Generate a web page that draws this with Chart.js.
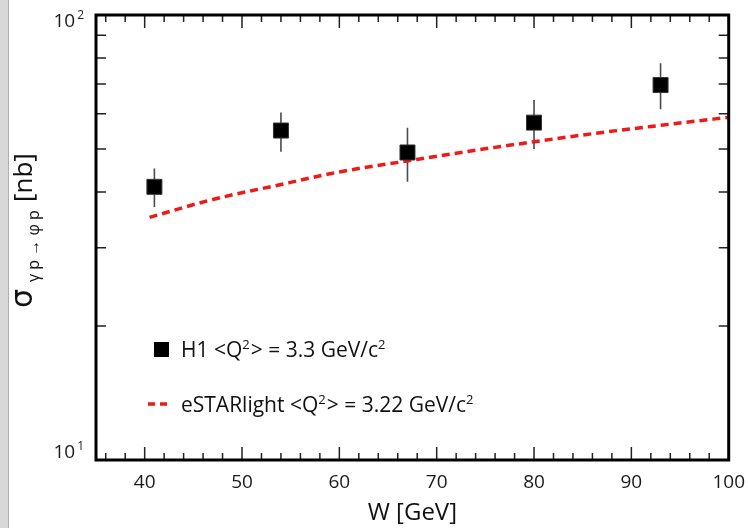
<!DOCTYPE html>
<html><head><meta charset="utf-8">
<script src="https://cdn.jsdelivr.net/npm/chart.js@4.4.1/dist/chart.umd.min.js"></script>
<style>
html,body{margin:0;padding:0;background:#fff;}
#wrap{position:relative;width:748px;height:528px;overflow:hidden;}
canvas{position:absolute;left:0;top:0;}
#strip{position:absolute;left:0;top:0;width:8px;height:528px;background:#d8d8d8;border-right:1px solid #b0b0b0;}
</style></head><body>
<div id="wrap"><canvas id="c" width="748" height="528"></canvas><div id="strip"></div></div>
<script>
// ---- data ----
const energies  = [41, 54, 67, 80, 93];            // W [GeV]
const h1Sigma   = [41.1, 55.0, 49.1, 57.3, 69.6];  // H1 cross section [nb]
const h1ErrHigh = [45.2, 60.4, 55.8, 64.4, 77.9];  // upper end of error bar
const h1ErrLow  = [37.0, 49.3, 42.2, 50.0, 61.4];  // lower end of error bar
const modelW     = [40.5, 47, 54, 60, 67, 73, 80, 86, 93, 100];
const modelSigma = [35.1, 38.5, 41.6, 44.4, 47.0, 49.3, 51.9, 54.1, 56.5, 58.9];
const xTickValues = [40, 50, 60, 70, 80, 90, 100];
const yMinorTicks = [20, 30, 40, 50, 60, 70, 80, 90];
const yMajorLabels = [{v: 10, base: '10', exp: '1'}, {v: 100, base: '10', exp: '2'}];
const legendH1 = ['H1 <Q', '2', '> = 3.3 GeV/c', '2'];
const legendModel = ['eSTARlight <Q', '2', '> = 3.22 GeV/c', '2'];

const FONT = '"Open Sans", "Liberation Sans", sans-serif';

const xMinorTicks = [];
for (let v = 36; v < 100; v += 2) if (v % 10 !== 0) xMinorTicks.push(v);

function drawSupText(ctx, parts, x, y, size, supSize, rise) {
  ctx.textAlign = 'left'; ctx.textBaseline = 'alphabetic';
  for (let i = 0; i < parts.length; i++) {
    const sup = i % 2 === 1;
    ctx.font = (sup ? supSize : size) + 'px ' + FONT;
    ctx.fillText(parts[i], x, sup ? y - rise : y);
    x += ctx.measureText(parts[i]).width + (sup ? 1 : 0);
  }
}

const errorBars = {
  id: 'errorBars',
  beforeDatasetsDraw(chart) {
    const {ctx, scales: {x, y}} = chart;
    ctx.save();
    ctx.strokeStyle = '#4a4a4a'; ctx.lineWidth = 1.6;
    energies.forEach((w, i) => {
      const px = x.getPixelForValue(w);
      ctx.beginPath();
      ctx.moveTo(px, y.getPixelForValue(h1ErrHigh[i]));
      ctx.lineTo(px, y.getPixelForValue(h1ErrLow[i]));
      ctx.stroke();
    });
    ctx.restore();
  }
};

const frame = {
  id: 'frame',
  afterDatasetsDraw(chart) {
    const {ctx, chartArea: a, scales: {x, y}} = chart;
    ctx.save();
    ctx.strokeStyle = '#222'; ctx.lineWidth = 1.5;
    ctx.beginPath();
    xTickValues.forEach(v => { const p = x.getPixelForValue(v);
      ctx.moveTo(p, a.bottom); ctx.lineTo(p, a.bottom - 13);
      ctx.moveTo(p, a.top); ctx.lineTo(p, a.top + 13); });
    xMinorTicks.forEach(v => { const p = x.getPixelForValue(v);
      ctx.moveTo(p, a.bottom); ctx.lineTo(p, a.bottom - 7);
      ctx.moveTo(p, a.top); ctx.lineTo(p, a.top + 7); });
    yMinorTicks.forEach(v => { const p = y.getPixelForValue(v);
      ctx.moveTo(a.left, p); ctx.lineTo(a.left + 10, p);
      ctx.moveTo(a.right, p); ctx.lineTo(a.right - 10, p); });
    ctx.stroke();
    ctx.strokeStyle = '#000'; ctx.lineWidth = 3;
    ctx.strokeRect(a.left, a.top, a.right - a.left, a.bottom - a.top);

    // y labels 10^1, 10^2
    ctx.fillStyle = '#1a1a1a';
    yMajorLabels.forEach(l => {
      let p = y.getPixelForValue(l.v);
      p = Math.min(Math.max(p, a.top + 12), a.bottom - 2);
      ctx.font = '19px ' + FONT; const wb = ctx.measureText(l.base).width;
      ctx.font = '12px ' + FONT; const we = ctx.measureText(l.exp).width;
      const x0 = 84 - wb - we - 2;
      ctx.textAlign = 'left'; ctx.textBaseline = 'alphabetic';
      ctx.font = '19px ' + FONT; ctx.fillText(l.base, x0, p);
      ctx.font = '12px ' + FONT; ctx.fillText(l.exp, x0 + wb + 2, p - 8);
    });

    // y title
    ctx.save();
    ctx.translate(32, 308); ctx.rotate(-Math.PI / 2);
    ctx.fillStyle = '#111'; ctx.textAlign = 'left'; ctx.textBaseline = 'alphabetic';
    ctx.font = '30px "DejaVu Sans", sans-serif'; ctx.fillText('σ', 0, 0);
    ctx.font = '16px ' + FONT; ctx.fillText('γ p → φ p', 26, 7);
    ctx.font = '26px ' + FONT; ctx.fillText('[nb]', 106, 0);
    ctx.restore();

    // legend
    ctx.fillStyle = '#000';
    ctx.fillRect(154, 342, 15, 15);
    ctx.fillStyle = '#111';
    drawSupText(ctx, legendH1, 181, 357, 21, 13, 8);
    ctx.strokeStyle = '#f01818'; ctx.lineWidth = 3.5; ctx.setLineDash([7, 5]);
    ctx.beginPath(); ctx.moveTo(148, 404); ctx.lineTo(168, 404); ctx.stroke();
    ctx.setLineDash([]);
    ctx.fillStyle = '#111';
    drawSupText(ctx, legendModel, 181, 412, 21, 13, 8);
    ctx.restore();
  }
};

new Chart(document.getElementById('c'), {
  data: {
    datasets: [
      { type: 'line', label: 'eSTARlight <Q2> = 3.22 GeV/c2',
        data: modelW.map((w, i) => ({x: w, y: modelSigma[i]})),
        borderColor: '#f01818', borderWidth: 3.5, borderDash: [8, 5],
        pointRadius: 0, fill: false, cubicInterpolationMode: 'monotone', order: 2 },
      { type: 'scatter', label: 'H1 <Q2> = 3.3 GeV/c2',
        data: energies.map((w, i) => ({x: w, y: h1Sigma[i]})),
        pointStyle: 'rect', pointRadius: 10.6, backgroundColor: '#000',
        borderColor: '#333', borderWidth: 1, order: 1 }
    ]
  },
  options: {
    responsive: false, animation: false, devicePixelRatio: 1,
    layout: {padding: {left: 96, top: 15, right: 19, bottom: 0}},
    plugins: {legend: {display: false}, tooltip: {enabled: false}},
    scales: {
      x: { type: 'linear', position: 'bottom', min: 35, max: 100,
        grid: {display: false}, border: {display: false},
        afterBuildTicks: s => { s.ticks = xTickValues.map(v => ({value: v})); },
        afterFit: s => { s.height = 68; },
        ticks: {color: '#1a1a1a', font: {size: 19, family: FONT}, padding: 3, maxRotation: 0},
        title: {display: true, text: 'W [GeV]', color: '#111',
          font: {size: 24, family: FONT}, padding: {top: 0, bottom: 0}} },
      y: { type: 'logarithmic', min: 10, max: 100, display: false }
    }
  },
  plugins: [errorBars, frame]
});
</script>
</body></html>
